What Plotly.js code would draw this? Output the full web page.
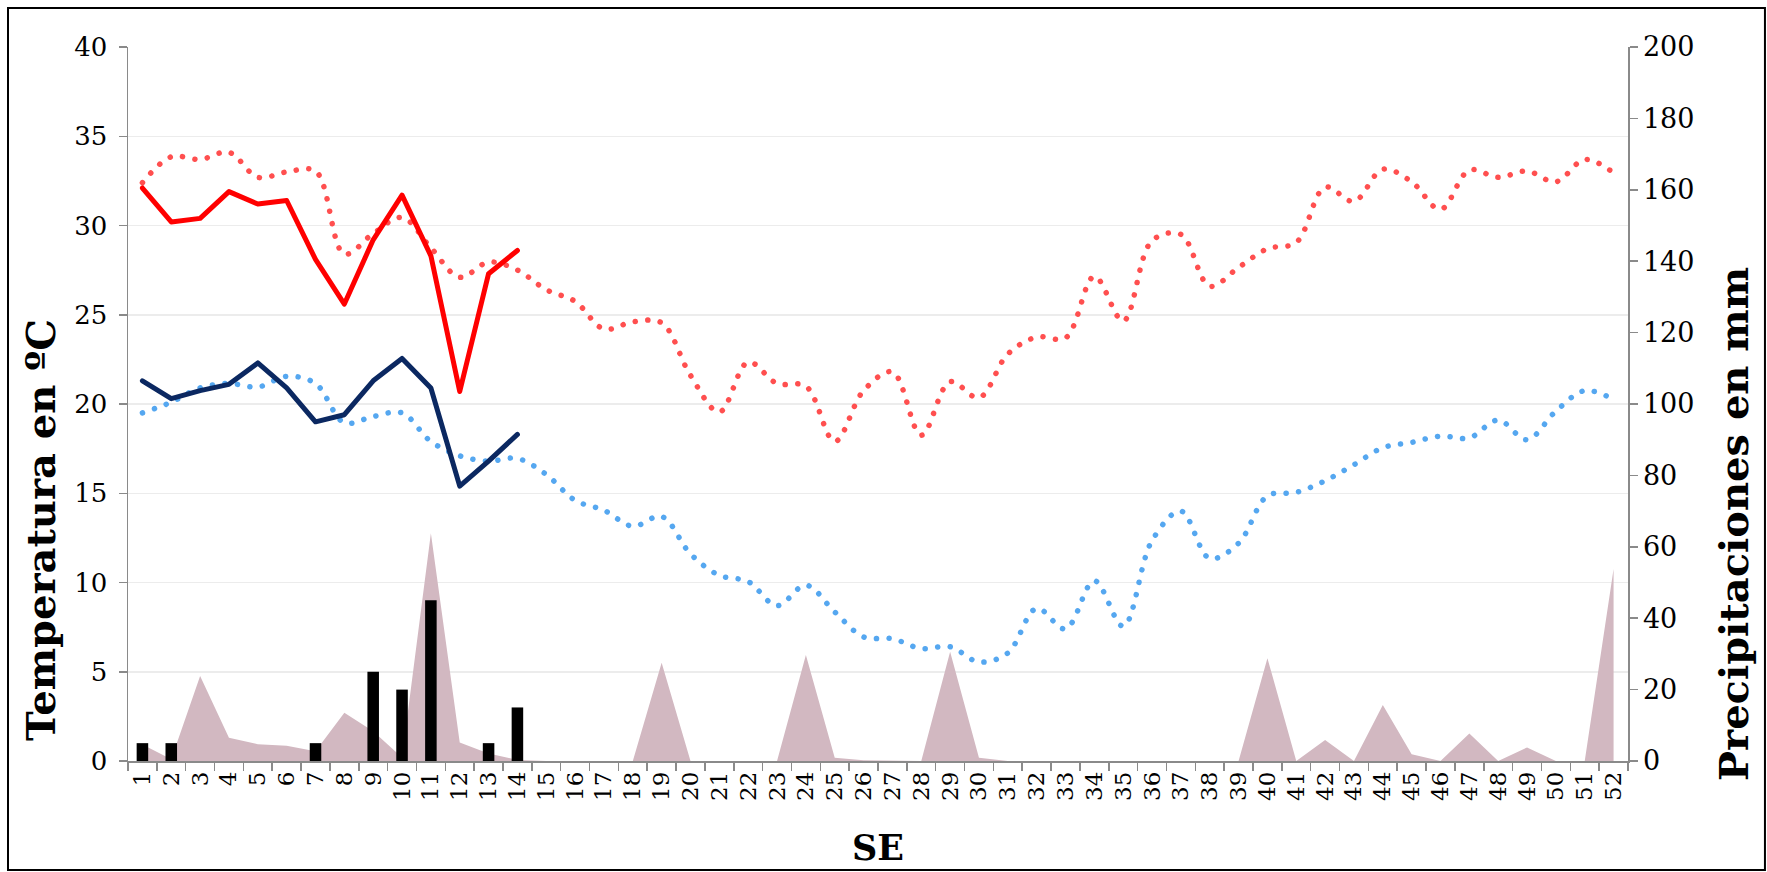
<!DOCTYPE html>
<html><head><meta charset="utf-8">
<script src="https://cdn.plot.ly/plotly-3.0.1.min.js"></script>
<style>
html,body{margin:0;padding:0;background:#fff;}
#chart{width:1767px;height:872px;}
.scatterlayer .js-line{stroke-linecap:round;stroke-linejoin:round;}
</style></head><body><div id="chart"></div>
<script>
const weeks = ["1","2","3","4","5","6","7","8","9","10","11","12","13","14","15","16","17","18","19","20","21","22","23","24","25","26","27","28","29","30","31","32","33","34","35","36","37","38","39","40","41","42","43","44","45","46","47","48","49","50","51","52"];
const currentWeeks = ["1","2","3","4","5","6","7","8","9","10","11","12","13","14"];

// current-year maximum and minimum temperature (°C)
const tmaxCurrent = [32.1, 30.2, 30.4, 31.9, 31.2, 31.4, 28.1, 25.6, 29.2, 31.7, 28.3, 20.7, 27.3, 28.6];
const tminCurrent = [21.3, 20.3, 20.75, 21.1, 22.3, 20.9, 19.0, 19.4, 21.3, 22.55, 20.9, 15.4, 16.8, 18.3];

// historical maximum and minimum temperature (°C)
const tmaxHist = [32.4, 33.85, 33.7, 34.1, 32.7, 33.0, 33.05, 28.4, 29.55, 30.45, 28.75, 27.1, 27.95, 27.5, 26.4, 25.75, 24.2, 24.6, 24.55, 21.6, 19.55, 22.35, 21.15, 21.0, 17.9, 20.75, 21.8, 18.25, 21.25, 20.35, 22.8, 23.75, 23.7, 27.15, 24.65, 29.15, 29.5, 26.6, 27.65, 28.7, 29.05, 32.15, 31.35, 33.15, 32.45, 30.9, 33.1, 32.7, 33.05, 32.45, 33.7, 32.95];
const tminHist = [19.5, 20.1, 20.9, 21.15, 20.95, 21.55, 21.15, 18.95, 19.3, 19.5, 17.9, 17.1, 16.8, 16.95, 16.05, 14.6, 14.05, 13.15, 13.7, 11.6, 10.4, 10.05, 8.7, 9.85, 8.35, 6.95, 6.85, 6.3, 6.4, 5.55, 6.05, 8.55, 7.4, 10.1, 7.55, 12.35, 14.0, 11.35, 12.2, 14.85, 15.05, 15.7, 16.6, 17.55, 17.85, 18.2, 18.1, 19.1, 18.0, 19.6, 20.75, 20.25];

// weekly precipitation (mm)
const precip = [4.6, 0.5, 23.8, 6.5, 4.7, 4.3, 2.7, 13.5, 8.3, 1.0, 63.8, 5.2, 2.1, 0.3, 0, 0, 0, 0, 27.5, 0, 0, 0, 0, 29.7, 0.9, 0.2, 0, 0, 30.6, 0.9, 0, 0, 0, 0, 0, 0, 0, 0, 0, 28.8, 0, 5.9, 0, 15.7, 1.9, 0, 7.7, 0, 3.8, 0, 0, 53.8];

// weekly cases (bars)
const cases = [1, 1, 0, 0, 0, 0, 1, 0, 5, 4, 9, 0, 1, 3];

const axisGray = '#8a8a8a';
const traces = [
  {type:'scatter', mode:'lines', x:weeks, y:precip, yaxis:'y', fill:'tozeroy',
   fillcolor:'#D2B8C1', line:{width:0, color:'#D2B8C1'}, hoverinfo:'skip'},
  {type:'bar', x:currentWeeks, y:cases, yaxis:'y2', width:0.4,
   marker:{color:'#000000', line:{width:0}}},
  {type:'scatter', mode:'lines', x:weeks, y:tmaxHist, yaxis:'y2',
   line:{color:'#FF4F4F', width:5.5, shape:'spline', smoothing:1, dash:'0.1px,12.5px'}},
  {type:'scatter', mode:'lines', x:weeks, y:tminHist, yaxis:'y2',
   line:{color:'#55A7F0', width:5.5, shape:'spline', smoothing:1, dash:'0.1px,12.5px'}},
  {type:'scatter', mode:'lines', x:currentWeeks, y:tmaxCurrent, yaxis:'y2',
   line:{color:'#FF0000', width:5}},
  {type:'scatter', mode:'lines', x:currentWeeks, y:tminCurrent, yaxis:'y2',
   line:{color:'#0B2861', width:5}}
];

const titleFont = {family:'DejaVu Serif', color:'#000', weight:'bold'};
const layout = {
  width:1767, height:872,
  margin:{l:128, r:139, t:47, b:111, pad:0},
  paper_bgcolor:'#ffffff', plot_bgcolor:'rgba(0,0,0,0)',
  showlegend:false, hovermode:false,
  font:{family:'DejaVu Serif', color:'#000'},
  xaxis:{type:'category', categoryorder:'array', categoryarray:weeks, range:[-0.5,51.5],
    tickson:'boundaries', ticks:'outside', ticklen:8, tickwidth:1.5, tickcolor:axisGray,
    showline:true, linecolor:axisGray, linewidth:1.5, showgrid:false, zeroline:false,
    tickangle:-90, tickfont:{size:23, family:'DejaVu Serif', color:'#000'}},
  yaxis:{side:'right', range:[0,200], tick0:0, dtick:20, ticks:'outside', ticklen:8,
    tickwidth:1.5, tickcolor:axisGray, showline:true, linecolor:axisGray, linewidth:1.5,
    showgrid:false, zeroline:false, tickfont:{size:27, family:'DejaVu Serif', color:'#000'}},
  yaxis2:{overlaying:'y', side:'left', range:[0,40], tick0:0, dtick:5, ticks:'outside', ticklen:8,
    tickwidth:1.5, tickcolor:axisGray, showline:true, linecolor:axisGray, linewidth:1.5,
    showgrid:true, gridcolor:'#ECECEC', gridwidth:1.5, zeroline:false, ticklabelstandoff:6,
    tickfont:{size:26, family:'DejaVu Serif', color:'#000'}},
  shapes:[{type:'rect', xref:'paper', yref:'paper', x0:-0.08, x1:1.0913, y0:-0.1527, y1:1.0546,
    line:{color:'#000', width:2}, fillcolor:'rgba(0,0,0,0)', layer:'above'}],
  annotations:[
    {text:'Temperatura en ºC', xref:'paper', yref:'paper', x:-0.0587, y:0.3235, showarrow:false,
     textangle:-90, xanchor:'center', yanchor:'middle', font:Object.assign({size:40}, titleFont)},
    {text:'Precipitaciones en mm', xref:'paper', yref:'paper', x:1.0707, y:0.332, showarrow:false,
     textangle:-90, xanchor:'center', yanchor:'middle', font:Object.assign({size:40}, titleFont)},
    {text:'SE', xref:'paper', yref:'paper', x:0.5, y:-0.1205, showarrow:false,
     xanchor:'center', yanchor:'middle', font:Object.assign({size:35}, titleFont)}
  ]
};
Plotly.newPlot('chart', traces, layout, {staticPlot:true, displayModeBar:false});
</script></body></html>
